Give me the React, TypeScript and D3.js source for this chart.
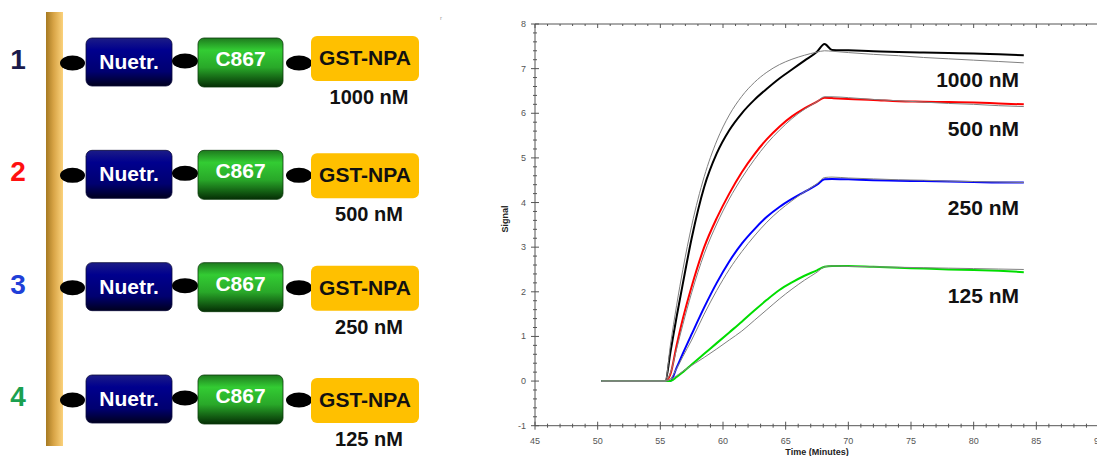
import React from 'react';
import * as d3 from 'd3';

// ---- data ----
const rowNumbers = ['1', '2', '3', '4'];
const concentrations = ['1000 nM', '500 nM', '250 nM', '125 nM'];
const domainLabels = ['Nuetr.', 'C867', 'GST-NPA'];

const timeGrid = [50.3, 55.4, 55.8, 56.3, 56.8, 57.5, 58.5, 59.5, 60.5, 61.5, 62.5, 63.5, 64.5, 65.5, 66.5, 67.5, 68.1, 68.7, 70, 72, 74, 76, 78, 80, 82, 84];

const signal1000 = [0, 0, 0.64, 1.44, 2.19, 3.2, 4.35, 5.1, 5.62, 6.0, 6.3, 6.55, 6.78, 6.98, 7.18, 7.38, 7.55, 7.42, 7.41, 7.39, 7.37, 7.36, 7.35, 7.34, 7.32, 7.3];
const fit1000 = [0, 0, 0.8, 1.7, 2.5, 3.48, 4.58, 5.38, 5.96, 6.38, 6.69, 6.92, 7.09, 7.21, 7.3, 7.37, 7.4, 7.39, 7.36, 7.32, 7.29, 7.25, 7.22, 7.19, 7.16, 7.13];
const signal500 = [0, 0, 0.15, 0.8, 1.4, 2.12, 3.0, 3.65, 4.2, 4.68, 5.08, 5.42, 5.7, 5.93, 6.11, 6.26, 6.35, 6.34, 6.32, 6.3, 6.27, 6.26, 6.25, 6.24, 6.22, 6.2];
const fit500 = [0, 0, 0.18, 0.72, 1.27, 1.98, 2.85, 3.52, 4.08, 4.55, 4.96, 5.32, 5.62, 5.88, 6.09, 6.26, 6.37, 6.37, 6.35, 6.31, 6.28, 6.25, 6.22, 6.2, 6.17, 6.15];
const signal250 = [0, 0, 0, 0.3, 0.62, 1.05, 1.65, 2.2, 2.68, 3.08, 3.4, 3.68, 3.9, 4.08, 4.24, 4.4, 4.52, 4.53, 4.52, 4.5, 4.49, 4.48, 4.47, 4.46, 4.45, 4.45];
const fit250 = [0, 0, 0.05, 0.28, 0.55, 0.92, 1.5, 2.03, 2.5, 2.9, 3.25, 3.56, 3.82, 4.04, 4.24, 4.42, 4.56, 4.57, 4.55, 4.53, 4.51, 4.5, 4.48, 4.47, 4.46, 4.45];
const signal125 = [0, 0, 0, 0.09, 0.2, 0.37, 0.61, 0.85, 1.09, 1.33, 1.58, 1.82, 2.04, 2.21, 2.36, 2.48, 2.56, 2.58, 2.58, 2.56, 2.54, 2.52, 2.5, 2.49, 2.47, 2.44];
const fit125 = [0, 0, 0.04, 0.12, 0.22, 0.35, 0.53, 0.72, 0.92, 1.12, 1.36, 1.6, 1.84, 2.06, 2.26, 2.44, 2.56, 2.58, 2.57, 2.56, 2.55, 2.54, 2.53, 2.52, 2.51, 2.5];

// signal level of each concentration label's baseline
const labelLevels = [6.59, 5.49, 3.72, 1.75];

const signals = [signal1000, signal500, signal250, signal125];
const fits = [fit1000, fit500, fit250, fit125];
const lineColors = ['#000000', '#ff0000', '#0000ff', '#00dd00'];
const numberColors = ['#1a1a4a', '#ff1010', '#1f3fd8', '#1aa050'];

const W = 1097;
const H = 456;
const FONT = 'Liberation Sans, Arial, sans-serif';

function Construct() {
  let rowY = d3.scaleLinear().domain([0, 3]).range([62, 399]);

  return (
    <g>
      <defs>
        <linearGradient id="gold" x1="0" x2="1" y1="0" y2="0">
          <stop offset="0%" stopColor="#a67a22" />
          <stop offset="45%" stopColor="#d8a446" />
          <stop offset="100%" stopColor="#fbd27c" />
        </linearGradient>
        <linearGradient id="navy" x1="0" x2="0" y1="0" y2="1">
          <stop offset="0%" stopColor="#1c1c86" />
          <stop offset="25%" stopColor="#00008e" />
          <stop offset="70%" stopColor="#000070" />
          <stop offset="100%" stopColor="#00001e" />
        </linearGradient>
        <linearGradient id="grn" x1="0" x2="0" y1="0" y2="1">
          <stop offset="0%" stopColor="#1e7a1e" />
          <stop offset="25%" stopColor="#33cc33" />
          <stop offset="60%" stopColor="#29a829" />
          <stop offset="100%" stopColor="#052e05" />
        </linearGradient>
      </defs>
      <rect x={46} y={12} width={17} height={434} fill="url(#gold)" />
      {rowNumbers.map((num, i) => {
        let c = rowY(i);
        // the first GST box sits a little higher in the original
        let gstShift = i === 0 ? -5 : 0;
        return (
          <g key={i}>
            <text x={18} y={c + 7} textAnchor="middle" fontFamily={FONT} fontWeight="bold" fontSize={28} fill={numberColors[i]}>{num}</text>
            <ellipse cx={72.5} cy={c + 1} rx={12.5} ry={7.5} fill="#000" />
            <rect x={86} y={c - 24} width={86} height={48} rx={6} fill="url(#navy)" stroke="#0a0a3a" strokeWidth={0.8} />
            <text x={129} y={c + 7} textAnchor="middle" fontFamily={FONT} fontWeight="bold" fontSize={21} fill="#fff">{domainLabels[0]}</text>
            <ellipse cx={185} cy={c - 1} rx={13} ry={7.5} fill="#000" />
            <rect x={198} y={c - 24} width={85} height={49} rx={6} fill="url(#grn)" stroke="#0a3a0a" strokeWidth={0.8} />
            <text x={240.5} y={c + 4} textAnchor="middle" fontFamily={FONT} fontWeight="bold" fontSize={21} fill="#fff">{domainLabels[1]}</text>
            <ellipse cx={299} cy={c + 1} rx={13} ry={7.5} fill="#000" />
            <rect x={311} y={c - 21 + gstShift} width={108} height={45} rx={6} fill="#ffc000" />
            <text x={365} y={c + 8 + gstShift} textAnchor="middle" fontFamily={FONT} fontWeight="bold" fontSize={21} fill="#111">{domainLabels[2]}</text>
            <text x={369} y={c + 47 + gstShift} textAnchor="middle" fontFamily={FONT} fontWeight="bold" fontSize={20} fill="#111">{concentrations[i]}</text>
          </g>
        );
      })}
      <text x={440} y={20} fontFamily={FONT} fontSize={6} fill="#999">r</text>
    </g>
  );
}

function Sensorgram() {
  let x = d3.scaleLinear().domain([45, 90]).range([535, 1099]);
  let y = d3.scaleLinear().domain([-1, 8]).range([425.7, 24]);

  let line = d3.line<number>()
    .x((d, i) => x(timeGrid[i]))
    .y((d) => y(d))
    .curve(d3.curveMonotoneX);

  let axisStyle = { stroke: '#555', strokeWidth: 1 };
  let tickFont = { fontFamily: FONT, fontSize: 9, fill: '#555' };
  let x0 = x(45);
  let yBottom = y(-1);
  let yTop = y(8);

  let yMinor = d3.range(-1, 8.001, 0.2);
  let yMajor = d3.range(-1, 9, 1);
  let xMinor = d3.range(45, 90.001, 1);
  let xMajor = d3.range(45, 91, 5);

  return (
    <g>
      {/* frame */}
      <line x1={x0} x2={x0} y1={yTop} y2={yBottom} style={axisStyle} />
      <line x1={x0} x2={W} y1={yBottom} y2={yBottom} style={axisStyle} />
      <line x1={x0} x2={W} y1={yTop} y2={yTop} style={axisStyle} />

      {yMinor.map((v, i) => {
        let major = Math.abs(v - Math.round(v)) < 1e-6;
        let len = major ? 4 : 2;
        return <line key={'ym' + i} x1={x0 - len} x2={x0 + len} y1={y(v)} y2={y(v)} style={axisStyle} />;
      })}
      {yMajor.map((v) => (
        <text key={'yl' + v} x={526} y={y(v) + 3} textAnchor="end" style={tickFont}>{v}</text>
      ))}
      {xMinor.map((v, i) => {
        let major = v % 5 === 0;
        let len = major ? 4 : 2;
        return (
          <g key={'xm' + i}>
            <line x1={x(v)} x2={x(v)} y1={yBottom - len} y2={yBottom + len} style={axisStyle} />
            <line x1={x(v)} x2={x(v)} y1={yTop} y2={yTop + len} style={axisStyle} />
          </g>
        );
      })}
      {xMajor.map((v) => (
        <text key={'xl' + v} x={x(v)} y={444} textAnchor="middle" style={tickFont}>{v}</text>
      ))}

      <text transform={`translate(${508},${219}) rotate(-90)`} textAnchor="middle" fontFamily={FONT} fontWeight="bold" fontSize={9} fill="#222">Signal</text>
      <text x={817} y={455} textAnchor="middle" fontFamily={FONT} fontWeight="bold" fontSize={9} fill="#222">Time (Minutes)</text>

      {signals.map((s, i) => (
        <path key={'s' + i} d={line(s) || ''} fill="none" stroke={lineColors[i]} strokeWidth={2} strokeLinejoin="round" />
      ))}
      {fits.map((s, i) => (
        <path key={'f' + i} d={line(s) || ''} fill="none" stroke="#808080" strokeWidth={1} strokeLinejoin="round" />
      ))}

      {concentrations.map((c, i) => (
        <text key={'c' + i} x={1019} y={y(labelLevels[i])} textAnchor="end" fontFamily={FONT} fontWeight="bold" fontSize={21} fill="#111">{c}</text>
      ))}
    </g>
  );
}

export default function App() {
  return (
    <svg width={W} height={H} style={{ position: 'absolute', left: 0, top: 0, background: '#fff' }}>
      <rect x={0} y={0} width={W} height={H} fill="#fff" />
      <Construct />
      <Sensorgram />
    </svg>
  );
}
